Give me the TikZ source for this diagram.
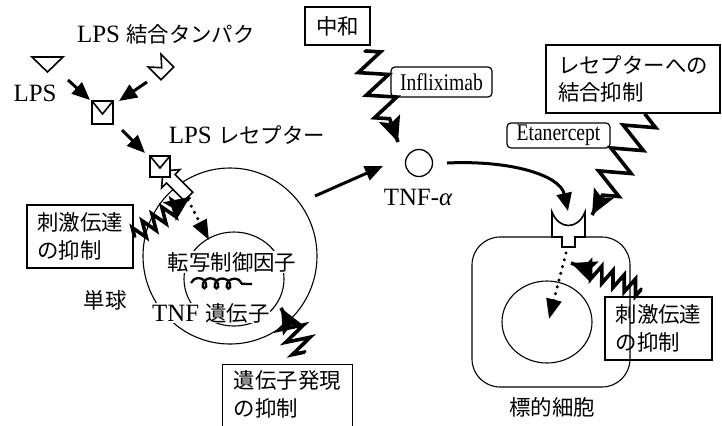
\documentclass[tikz,border=0pt]{standalone}
\usepackage{fontspec}
\setmainfont{Liberation Serif}
\newfontfamily\jpfont{Noto Sans CJK JP}
\newfontfamily\condfont{Liberation Serif}[FakeStretch=0.82]
\usetikzlibrary{arrows.meta,decorations.pathmorphing,shapes.geometric,calc}
\newcommand\jtxt[1]{{\jpfont\fontsize{21.5}{27}\selectfont #1}}

\begin{document}
\begin{tikzpicture}[x=1bp,y=-1bp,
  lat/.style={font=\fontsize{25}{30}\selectfont, inner sep=1bp},
  jlab/.style={font=\jpfont\fontsize{21.5}{28}\selectfont, inner sep=1bp},
  jbox/.style={draw, line width=1.2bp, font=\jpfont\fontsize{21.5}{28}\selectfont,
    align=left, inner sep=0pt},
  dbox/.style={draw, rounded corners=4bp, line width=1.2bp,
    font=\condfont\fontsize{24}{28}\selectfont, inner sep=0pt},
  shp/.style={line width=1.6bp, line join=miter},
  arr/.style={line width=3bp, -{Triangle[length=18bp,width=15bp]}},
  dotarr/.style={line width=3.4bp, dash pattern=on 0pt off 7bp, line cap=round,
    -{Triangle[length=20bp,width=15bp]}},
  zzline/.style={line width=3.6bp, line join=miter, decorate},
  zzhead/.style={line width=3.6bp, -{Stealth[length=25bp,width=22bp,inset=5bp]}},
  thinline/.style={line width=1.1bp}]

\useasboundingbox (0,0) rectangle (722,425);
\clip (0,0) rectangle (722,425);
\fill[white] (0,0) rectangle (722,425);

% ---------- LPS and its binding protein ----------
\node[lat] (lbptxt) at (166,34) {LPS \jtxt{結合タンパク}};
\node[lat] (lpstxt) at (35,93) {LPS};
\node[lat] (rectxt) at (247,135) {LPS \jtxt{レセプター}};

% free LPS
\draw[shp] (32,57) -- (63,57) -- (47.5,72) -- cycle;
% LPS binding protein
\begin{scope}[shift={(161,67)}, rotate=45]
  \draw[shp] (-9,-9) -- (0,1) -- (9,-9) -- (9,9) -- (-9,9) -- cycle;
\end{scope}
% LPS / LBP complex
\draw[shp] (92,101) rectangle (113,124);
\draw[shp] (92,101) -- (102.5,114) -- (113,101);

\coordinate (lpsA) at (68,80);   \coordinate (cxA) at (90,100);
\coordinate (lbpA) at (147,82);  \coordinate (cxB) at (119,101);
\coordinate (cxC) at (122,130);  \coordinate (recA) at (145,153);
\draw[arr] (lpsA) -- (cxA);
\draw[arr] (lbpA) -- (cxB);
\draw[arr] (cxC) -- (recA);

% ---------- monocyte ----------
\node[ellipse, draw, thinline, minimum width=174bp, minimum height=176bp, inner sep=0pt]
  (mono) at (230,256) {};
\node[ellipse, draw, thinline, minimum width=100bp, minimum height=94bp, inner sep=0pt]
  (nuc) at (234,279) {};
\node[jlab, fill=white] (tf) at (232,262) {転写制御因子};
\node[lat, fill=white, inner sep=0pt] (gene) at (211,313) {TNF \jtxt{遺伝子}};
\node[jlab] (monotxt) at (105,300) {単球};
% TNF gene
\draw[line width=2.3bp, decorate,
  decoration={coil, aspect=0.9, segment length=12bp, amplitude=5bp}] (191,283) -- (252,284);

% receptor with bound complex
\begin{scope}[shift={(163,171)}, rotate=135]
  \draw[shp, fill=white] (0,0) -- (-11,-13) -- (-11,-6) -- (-36,-6) -- (-36,6)
    -- (-11,6) -- (-11,13) -- cycle;
\end{scope}
\draw[shp, fill=white] (150,156) rectangle (170,177);
\draw[shp] (150,156) -- (160,168) -- (170,156);

% signal into the nucleus
\coordinate (sigA) at (188,200);
\coordinate (sigB) at (209,240);
\draw[dotarr] (sigA) -- (sigB);

% ---------- TNF-alpha ----------
\node[circle, draw, line width=1.3bp, minimum size=27bp, inner sep=0pt] (tnf) at (419,163) {};
\node[lat] (tnftxt) at (418,197) {TNF-{\itshape α}};
\coordinate (monoOut) at (315,196);
\coordinate (tnfIn) at (383,166);
\draw[arr] (monoOut) -- (tnfIn);

% ---------- target cell ----------
\draw[thinline, rounded corners=28bp] (472,237) rectangle (630,387);
\node[ellipse, draw, thinline, minimum width=90bp, minimum height=82bp, inner sep=0pt]
  (tnuc) at (547,322) {};
\draw[shp, fill=white] (552,212) -- (552,237) -- (562,237) -- (562,247) -- (575,247)
  -- (575,237) -- (585,237) -- (585,212) .. controls (578,230) and (559,230) .. (552,212) -- cycle;
\node[jlab] (tcell) at (552,407) {標的細胞};
\coordinate (recTop) at (568,211);
\draw[arr] ([xshift=28bp]tnf.center) .. controls (510,160) and (560,175) .. (recTop);
\coordinate (tsigA) at (566,253);
\coordinate (tsigB) at (549,319);
\draw[dotarr] (tsigA) -- (tsigB);

% ---------- inhibitors ----------
\node[jbox, minimum width=106bp, minimum height=63bp] (boxL) at (80,236.5) {刺激伝達\\の抑制};
\node[jbox, minimum width=107bp, minimum height=63bp] (boxR) at (658.5,328.5) {刺激伝達\\の抑制};
\node[jbox, minimum width=65bp, minimum height=38bp] (boxN) at (337.5,26) {中和};
\node[jbox, minimum width=174bp, minimum height=68bp] (boxB) at (633,79) {レセプターへの\\結合抑制};
\node[jbox, draw=none, minimum width=129bp, minimum height=58bp] (boxG) at (287.5,394) {遺伝子発現\\の抑制};
\draw[line width=1.2bp] ([yshift=-20bp]boxG.south west) -- (boxG.north west)
  -- (boxG.north east) -- ([yshift=-20bp]boxG.south east);
\node[dbox, minimum width=101bp, minimum height=30bp] (infl) at (441.5,82) {Infliximab};
\node[dbox, minimum width=103bp, minimum height=25bp] (etan) at (558.5,135.5) {Etanercept};

% zigzag inhibitor arrows: a zigzag body and a separate straight head
\coordinate (zLa) at (boxL.east); \coordinate (zLb) at (190,197);
\draw[zzline, decoration={zigzag, amplitude=8bp, segment length=12bp, pre length=1bp, post length=12bp}]
  (zLa) -- (zLb);
\draw[zzhead] ($(zLa)!0.8!(zLb)$) -- (zLb);

\coordinate (zGa) at (305,353); \coordinate (zGb) at (281,308);
\draw[zzline, decoration={zigzag, amplitude=12bp, segment length=14bp, pre length=1bp, post length=10bp}]
  (zGa) -- (zGb);
\draw[zzhead] ($(zGa)!0.75!(zGb)$) -- (zGb);

\coordinate (zNa) at (365,50); \coordinate (zNb) at (398,142);
\draw[zzline, decoration={zigzag, amplitude=14bp, segment length=24bp, pre length=1bp, post length=18bp}]
  (zNa) -- (zNb);
\draw[zzhead] ($(zNa)!0.8!(zNb)$) -- (zNb);

\coordinate (zEa) at (646,114); \coordinate (zEb) at (592,215);
\draw[zzline, decoration={zigzag, amplitude=15bp, segment length=26bp, pre length=1bp, post length=18bp}]
  (zEa) -- (zEb);
\draw[zzhead] ($(zEa)!0.8!(zEb)$) -- (zEb);

\coordinate (zTa) at (642,290); \coordinate (zTb) at (571,263);
\draw[zzline, decoration={zigzag, amplitude=8bp, segment length=12bp, pre length=1bp, post length=12bp}]
  (zTa) -- (zTb);
\draw[zzhead] ($(zTa)!0.8!(zTb)$) -- (zTb);
\end{tikzpicture}
\end{document}
